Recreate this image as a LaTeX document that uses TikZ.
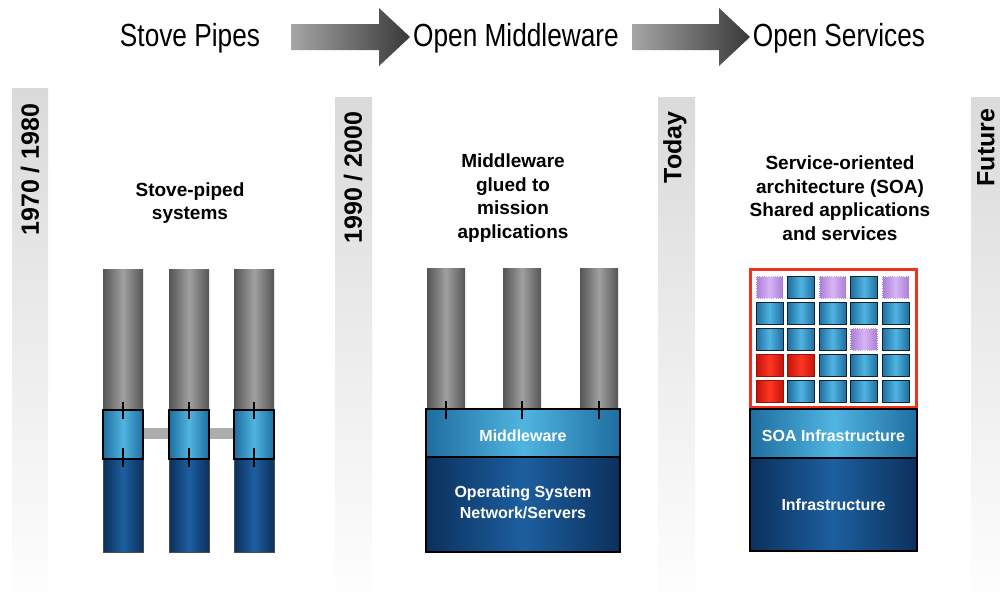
\documentclass[tikz,border=0pt]{standalone}
\usepackage{fontspec}
\setmainfont{Liberation Sans}

\definecolor{pipeDark}{RGB}{85,85,85}
\definecolor{pipeLight}{RGB}{160,160,160}
\definecolor{ltBlueEdge}{RGB}{30,110,160}
\definecolor{ltBlueMid}{RGB}{80,180,225}
\definecolor{dkBlueEdge}{RGB}{12,48,92}
\definecolor{dkBlueMid}{RGB}{28,95,160}
\definecolor{cellBorder}{RGB}{10,35,55}
\definecolor{lilacEdge}{RGB}{170,125,215}
\definecolor{lilacMid}{RGB}{215,180,245}
\definecolor{redEdge}{RGB}{195,20,10}
\definecolor{redMid}{RGB}{255,55,35}
\definecolor{frameRed}{RGB}{240,50,30}
\definecolor{barGray}{RGB}{218,218,218}

\tikzset{
  timebar/.style={top color=barGray, bottom color=white},
  hdarrow/.style={left color=black!35, right color=black!78},
  hdtext/.style={font=\fontsize{32}{36}\selectfont, xscale=0.82},
  yeartext/.style={font=\bfseries\fontsize{25}{28}\selectfont, rotate=90, anchor=east},
  captext/.style={font=\bfseries\fontsize{19}{23.5}\selectfont, align=center},
  boxtext/.style={font=\bfseries\fontsize{16}{21}\selectfont, align=center, text=white},
  pipe/.style={left color=pipeDark, right color=pipeDark, middle color=pipeLight},
  ltbox/.style={left color=ltBlueEdge, right color=ltBlueEdge, middle color=ltBlueMid, draw=black, line width=1.1pt},
  dkbox/.style={left color=dkBlueEdge, right color=dkBlueEdge, middle color=dkBlueMid, draw=black!70, line width=0.6pt},
  joint/.style={draw=black, line width=1.4pt},
  bluecell/.style={left color=ltBlueEdge, right color=ltBlueEdge, middle color=ltBlueMid, draw=cellBorder, line width=1pt},
  lilaccell/.style={left color=lilacEdge, right color=lilacEdge, middle color=lilacMid, draw=white, densely dotted, line width=0.8pt},
  redcell/.style={left color=redEdge, right color=redEdge, middle color=redMid, draw=redEdge!80!black, line width=0.6pt}
}

\begin{document}
\begin{tikzpicture}[x=1pt,y=1pt,yscale=-1]
\useasboundingbox (0,0) rectangle (1000,611);
\fill[white] (0,0) rectangle (1000,611);

%Shape: time bars
\shade[timebar] (12,88) rectangle (48,611);
\shade[timebar] (335,97) rectangle (372,611);
\shade[timebar] (658,97) rectangle (695,611);
\shade[timebar] (971,97) rectangle (1000,611);

% Text Node
\node[yeartext] (yr70) at (30,100) {1970 / 1980};
% Text Node
\node[yeartext] (yr90) at (353,108) {1990 / 2000};
% Text Node
\node[yeartext] (today) at (675,108) {Today};
% Text Node
\node[yeartext] (future) at (986,105) {Future};

% Header
\node[hdtext] (hdStove) at (190,38) {Stove Pipes};
\node[hdtext] (hdMiddle) at (516,38) {Open Middleware};
\node[hdtext] (hdServices) at (839,38) {Open Services};

%Shape: block arrows
\shade[hdarrow] (291,24) -- (379,24) -- (379,8) -- (410,37) -- (379,66) -- (379,50) -- (291,50) -- cycle;
\shade[hdarrow] (632,24) -- (719,24) -- (719,8) -- (750,37) -- (719,66) -- (719,50) -- (632,50) -- cycle;

% Captions
\node[captext] (capStove) at (190,203) {Stove-piped\\systems};
\node[captext] (capMiddle) at (513,198) {Middleware\\glued to\\mission\\applications};
\node[captext] (capSOA) at (840,198) {Service-oriented\\architecture (SOA)\\Shared applications\\and services};

%Shape: stove pipes
\fill[black!32] (143,428) rectangle (169,439);
\fill[black!32] (209,428) rectangle (234,439);
\shade[pipe] (103,269) rectangle (143,410);
\shade[pipe] (169,269) rectangle (209,410);
\shade[pipe] (234,269) rectangle (274,410);
\shadedraw[dkbox] (103,459) rectangle (143,552);
\shadedraw[dkbox] (169,459) rectangle (209,552);
\shadedraw[dkbox] (234,459) rectangle (274,552);
\shadedraw[ltbox] (103,410) rectangle (143,459);
\shadedraw[ltbox] (169,410) rectangle (209,459);
\shadedraw[ltbox] (234,410) rectangle (274,459);
\draw[joint] (123,402) -- (123,419) (123,448) -- (123,467);
\draw[joint] (189,402) -- (189,419) (189,448) -- (189,467);
\draw[joint] (254,402) -- (254,419) (254,448) -- (254,467);

%Shape: middleware stack
\shade[pipe] (427,268) rectangle (465,409);
\shade[pipe] (503,268) rectangle (541,409);
\shade[pipe] (580,268) rectangle (618,409);
\shadedraw[ltbox] (426,409) rectangle (620,457);
\shadedraw[dkbox, draw=black, line width=1.1pt] (426,457) rectangle (620,552);
\draw[joint] (446,401) -- (446,419);
\draw[joint] (522,401) -- (522,419);
\draw[joint] (599,401) -- (599,419);
% Text Node
\node[boxtext] (mwLabel) at (523,436) {Middleware};
% Text Node
\node[boxtext] (osLabel) at (523,502) {Operating System\\Network/Servers};

%Shape: SOA stack
\draw[draw=frameRed, fill=white, line width=3.5pt] (750.5,269.5) rectangle (916.5,407.5);
\shadedraw[ltbox] (750,409) rectangle (917,458);
\shadedraw[dkbox, draw=black, line width=1.1pt] (750,458) rectangle (917,551);
% row 1
\shadedraw[lilaccell] (756,276) rectangle (783,298);
\shadedraw[bluecell] (787.5,276) rectangle (814.5,298);
\shadedraw[lilaccell] (819,276) rectangle (846,298);
\shadedraw[bluecell] (850.5,276) rectangle (877.5,298);
\shadedraw[lilaccell] (882,276) rectangle (909,298);
% row 2
\shadedraw[bluecell] (756,302) rectangle (783,324);
\shadedraw[bluecell] (787.5,302) rectangle (814.5,324);
\shadedraw[bluecell] (819,302) rectangle (846,324);
\shadedraw[bluecell] (850.5,302) rectangle (877.5,324);
\shadedraw[bluecell] (882,302) rectangle (909,324);
% row 3
\shadedraw[bluecell] (756,328) rectangle (783,350);
\shadedraw[bluecell] (787.5,328) rectangle (814.5,350);
\shadedraw[bluecell] (819,328) rectangle (846,350);
\shadedraw[lilaccell] (850.5,328) rectangle (877.5,350);
\shadedraw[bluecell] (882,328) rectangle (909,350);
% row 4
\shadedraw[redcell] (756,354) rectangle (783,376);
\shadedraw[redcell] (787.5,354) rectangle (814.5,376);
\shadedraw[bluecell] (819,354) rectangle (846,376);
\shadedraw[bluecell] (850.5,354) rectangle (877.5,376);
\shadedraw[bluecell] (882,354) rectangle (909,376);
% row 5
\shadedraw[redcell] (756,380) rectangle (783,402);
\shadedraw[bluecell] (787.5,380) rectangle (814.5,402);
\shadedraw[bluecell] (819,380) rectangle (846,402);
\shadedraw[bluecell] (850.5,380) rectangle (877.5,402);
\shadedraw[bluecell] (882,380) rectangle (909,402);
% Text Node
\node[boxtext] (soaLabel) at (833.5,436) {SOA Infrastructure};
% Text Node
\node[boxtext] (infraLabel) at (833.5,505) {Infrastructure};

\end{tikzpicture}
\end{document}
